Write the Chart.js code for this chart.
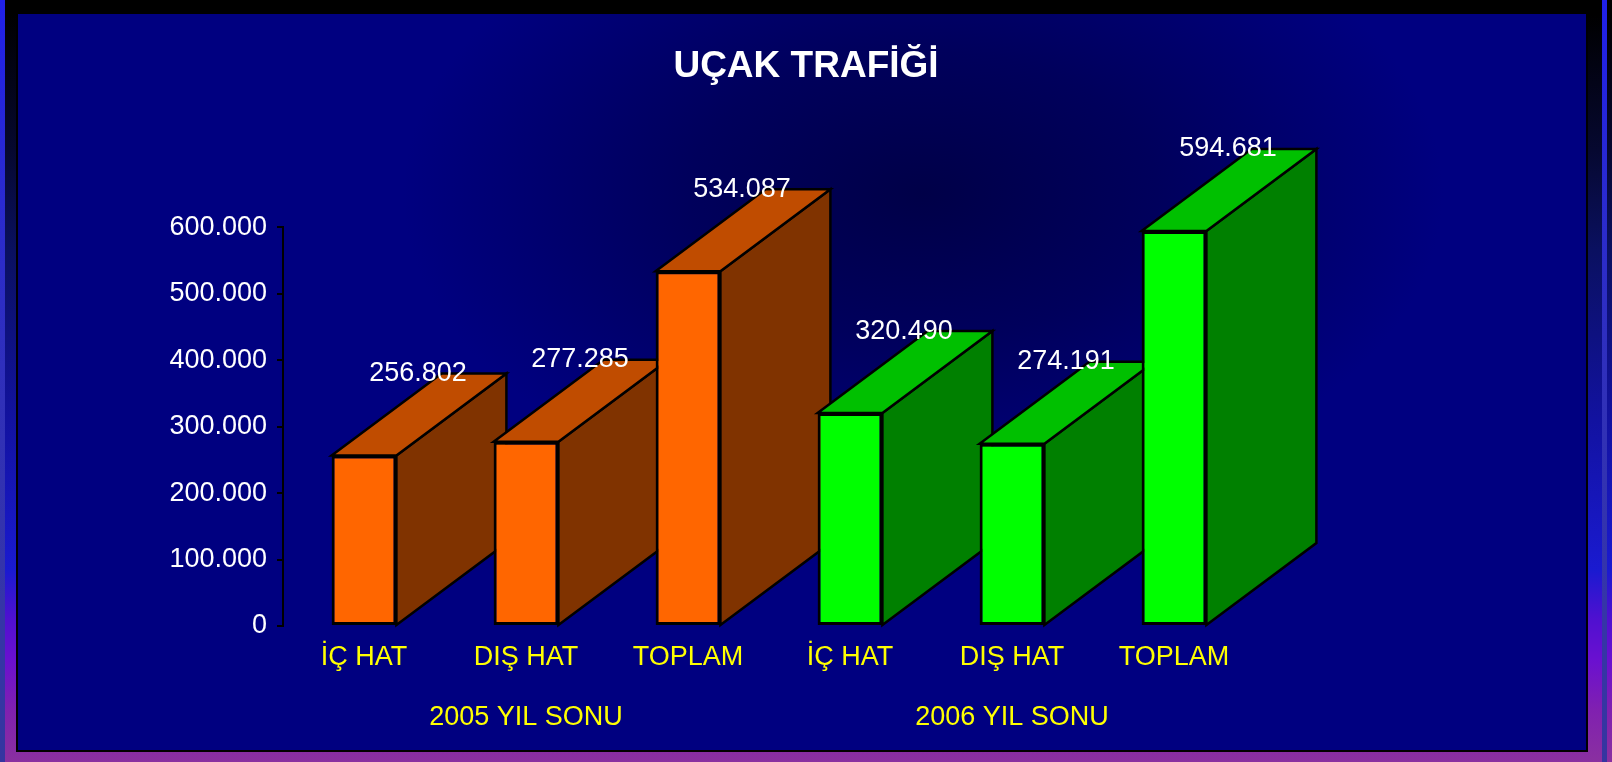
<!DOCTYPE html>
<html lang="tr">
<head>
<meta charset="UTF-8">
<title>Uçak Trafiği</title>
<script src="https://cdn.jsdelivr.net/npm/chart.js"></script>
<style>
  html, body { margin: 0; padding: 0; }
  body {
    width: 1612px; height: 762px; overflow: hidden; position: relative;
    background: linear-gradient(to bottom, #000 0px, #000 14px, #060830 150px, #0a1060 250px,
      #1212a0 420px, #1a1ad0 570px, #5010d0 620px, #6a10d0 660px, #8020b0 710px, #8a30a0 762px);
  }
  .strip {
    position: absolute; top: 0; width: 5px; height: 762px;
    background: linear-gradient(#2020e8 0, #2a2ad0 200px, #3030b8 400px, #3535a8 600px, #3535a0 762px);
  }
  .panel {
    position: absolute; left: 16px; top: 12px; width: 1572px; height: 740px;
    box-sizing: border-box; border: 2px solid #000;
    background: radial-gradient(ellipse 520px 320px at 905px 180px, #000048 0%, #00005c 45%, #000080 100%);
  }
  canvas { position: absolute; left: 0; top: 0; }
</style>
</head>
<body>
<div class="strip" style="left:0"></div>
<div class="strip" style="left:1602px"></div>
<div class="panel"></div>
<canvas id="chart" width="1612" height="762"></canvas>
<script>
// data
const categories = ['İÇ HAT', 'DIŞ HAT', 'TOPLAM', 'İÇ HAT', 'DIŞ HAT', 'TOPLAM'];
const values = [256802, 277285, 534087, 320490, 274191, 594681];
const years = ['2005 YIL SONU', '2006 YIL SONU'];
const yearOfBar = [0, 0, 0, 1, 1, 1];

// front / top / side colours per year
const faceColors = [
  { front: '#ff6600', top: '#c04c00', side: '#803300' },
  { front: '#00ff00', top: '#00c000', side: '#008000' }
];

const DEPTH_X = 110, DEPTH_Y = 82;
const FONT = 'Arial, "Liberation Sans", sans-serif';

function fmt(v) {
  return String(v).replace(/\B(?=(\d{3})+(?!\d))/g, '.');
}

Chart.defaults.font.family = FONT;

// draws each bar as a box: side, top, then the front face, left to right
const boxes = {
  id: 'boxes',
  beforeDatasetDraw() { return false; },
  afterDatasetsDraw(chart) {
    const ctx = chart.ctx;
    const meta = chart.getDatasetMeta(0);
    meta.data.forEach((bar, i) => {
      const p = bar.getProps(['x', 'y', 'base', 'width'], true);
      const l = p.x - p.width / 2, r = p.x + p.width / 2;
      const c = faceColors[yearOfBar[i]];
      ctx.save();
      ctx.lineWidth = 2.5;
      ctx.lineJoin = 'miter';
      ctx.strokeStyle = '#000';

      ctx.beginPath();
      ctx.moveTo(r, p.y);
      ctx.lineTo(r + DEPTH_X, p.y - DEPTH_Y);
      ctx.lineTo(r + DEPTH_X, p.base - DEPTH_Y);
      ctx.lineTo(r, p.base);
      ctx.closePath();
      ctx.fillStyle = c.side;
      ctx.fill();
      ctx.stroke();

      ctx.beginPath();
      ctx.moveTo(l, p.y);
      ctx.lineTo(l + DEPTH_X, p.y - DEPTH_Y);
      ctx.lineTo(r + DEPTH_X, p.y - DEPTH_Y);
      ctx.lineTo(r, p.y);
      ctx.closePath();
      ctx.fillStyle = c.top;
      ctx.fill();
      ctx.stroke();
      ctx.restore();

      bar.draw(ctx);

      ctx.save();
      ctx.fillStyle = '#ffffff';
      ctx.font = '27px ' + FONT;
      ctx.textAlign = 'center';
      ctx.textBaseline = 'middle';
      ctx.fillText(fmt(values[i]), p.x + 54, p.y - DEPTH_Y);
      ctx.restore();
    });
  }
};

new Chart(document.getElementById('chart'), {
  type: 'bar',
  data: {
    labels: categories,
    datasets: [{
      data: values,
      backgroundColor: yearOfBar.map(g => faceColors[g].front),
      borderColor: '#000',
      borderWidth: 3,
      borderSkipped: false,
      categoryPercentage: 1,
      barPercentage: 0.4
    }]
  },
  options: {
    responsive: false,
    animation: false,
    devicePixelRatio: 1,
    layout: { padding: { left: 0, right: 0, top: 14, bottom: 0 } },
    plugins: {
      legend: { display: false },
      tooltip: { enabled: false },
      title: {
        display: true,
        text: 'UÇAK TRAFİĞİ',
        color: '#ffffff',
        font: { size: 37, weight: 'bold', family: FONT },
        padding: { top: 31, bottom: 138 }
      }
    },
    scales: {
      x: {
        weight: 0,
        afterFit: s => { s.height = 47; },
        grid: { display: false, drawTicks: false, tickLength: 0 },
        border: { display: false },
        ticks: { color: '#ffff00', font: { size: 27 }, padding: 15 }
      },
      x2: {
        type: 'category',
        labels: years,
        position: 'bottom',
        offset: true,
        weight: 1,
        afterFit: s => { s.height = 89; },
        grid: { display: false, drawTicks: false, tickLength: 0 },
        border: { display: false },
        ticks: { color: '#ffff00', font: { size: 27 }, padding: 28 }
      },
      y: {
        min: 0,
        max: 600000,
        afterFit: s => { s.width = 283; },
        grid: { drawOnChartArea: false, drawTicks: true, tickLength: 6, color: '#000', lineWidth: 2 },
        border: { display: true, color: '#000', width: 2 },
        ticks: { stepSize: 100000, color: '#ffffff', font: { size: 27 }, padding: 10, callback: v => fmt(v) }
      },
      yRight: {
        type: 'linear',
        position: 'right',
        display: true,
        afterFit: s => { s.width = 357; },
        grid: { display: false },
        border: { display: false },
        ticks: { display: false }
      }
    }
  },
  plugins: [boxes]
});
</script>
</body>
</html>
